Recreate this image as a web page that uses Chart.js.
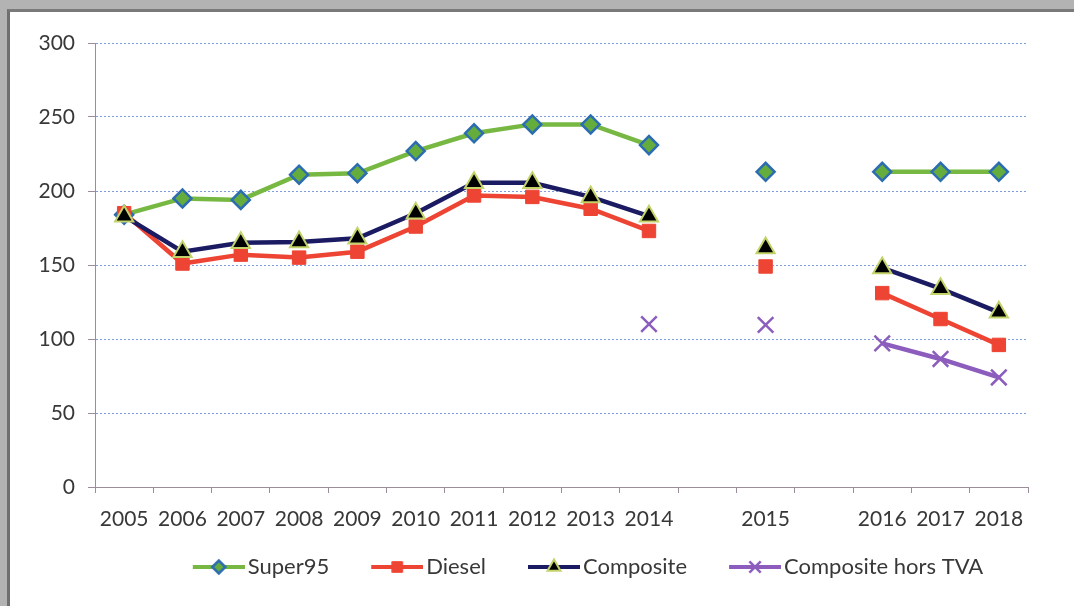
<!DOCTYPE html>
<html>
<head>
<meta charset="utf-8">
<script src="https://cdn.jsdelivr.net/npm/chart.js@4.4.0/dist/chart.umd.min.js"></script>
<style>
  html, body { margin: 0; padding: 0; width: 1074px; height: 606px; overflow: hidden; background: #b3b3b3; }
  #panel { position: absolute; left: 7px; top: 9px; width: 1064px; height: 594px; background: #fff;
           border-left: 3px solid #6f6f6f; border-top: 3px solid #7a7a7a; }
  #c { position: absolute; left: 0; top: 0; }
</style>
</head>
<body>
<div id="panel"><canvas id="c" width="1064" height="594"></canvas></div>
<script>
// categories (blank slots keep the gaps around 2015)
const years = ['2005', '2006', '2007', '2008', '2009', '2010', '2011', '2012', '2013', '2014',
               '', '2015', '', '2016', '2017', '2018'];

const super95 = [184, 195, 194, 211, 212, 227, 239, 245, 245, 231, null, 213, null, 213, 213, 213];
const diesel = [185, 151, 157, 155, 159, 176, 197, 196, 188, 173, null, 149, null, 131, 113.5, 96];
const composite = [183, 159, 165, 165.5, 168, 185, 205.5, 205.5, 196, 183, null, 161.5, null, 148, 134, 118];
const compositeHorsTva = [null, null, null, null, null, null, null, null, null, 110, null, 109.5, null, 97, 86.5, 74];

const yTicks = [0, 50, 100, 150, 200, 250, 300];

const textColor = '#383838';
const axisColor = '#9a8e9a';
const tickFont = { family: 'Lato', size: 21 };
const legendFont = { family: 'Lato', size: 22 };

const datasets = [
  {
    label: 'Super95', data: super95, order: 2,
    borderColor: '#77b843', pointStyle: 'rectRot', pointRadius: 9,
    pointBackgroundColor: '#64ad3d', pointBorderColor: '#2c6db2', pointBorderWidth: 2.5
  },
  {
    label: 'Diesel', data: diesel, order: 1,
    borderColor: '#ee4433', pointStyle: 'rect', pointRadius: 9.5,
    pointBackgroundColor: '#ee4433', pointBorderColor: '#ee4433', pointBorderWidth: 1
  },
  {
    label: 'Composite', data: composite, order: 0,
    borderColor: '#1b1b63', pointStyle: 'triangle', pointRadius: 10.5,
    pointBackgroundColor: '#000000', pointBorderColor: '#c3d36a', pointBorderWidth: 2
  },
  {
    label: 'Composite hors TVA', data: compositeHorsTva, order: 3,
    borderColor: '#8c5dbd', pointStyle: 'crossRot', pointRadius: 11,
    pointBackgroundColor: '#8c5dbd', pointBorderColor: '#8c5dbd', pointBorderWidth: 2.5
  }
];
datasets.forEach(ds => Object.assign(ds, { borderWidth: 4.5, tension: 0, fill: false, spanGaps: false }));

// legend pictures: line + marker on the right 52px, transparent margin on the left
// (the margin gives the spacing between legend items)
const iconMargin = 38;
function legendIcon(ds, r) {
  const cv = document.createElement('canvas');
  cv.width = iconMargin + 52;
  cv.height = 22;
  const ctx = cv.getContext('2d');
  ctx.strokeStyle = ds.borderColor;
  ctx.lineWidth = 4;
  ctx.beginPath();
  ctx.moveTo(iconMargin, 11);
  ctx.lineTo(iconMargin + 52, 11);
  ctx.stroke();
  ctx.fillStyle = ds.pointBackgroundColor;
  ctx.strokeStyle = ds.pointBorderColor;
  ctx.lineWidth = ds.pointBorderWidth;
  Chart.helpers.drawPoint(ctx, { pointStyle: ds.pointStyle, radius: r, borderWidth: ds.pointBorderWidth, rotation: 0 }, iconMargin + 26, 11);
  return cv;
}
const iconSizes = [6.5, 7.5, 7.5, 8];
const icons = datasets.map((ds, i) => legendIcon(ds, iconSizes[i]));

// legend placed by hand: right of the canvas centre, just under the year labels
const placeLegend = {
  id: 'placeLegend',
  afterLayout(chart) {
    const lg = chart.legend;
    const h = lg.bottom - lg.top;
    lg.left += 54;
    lg.right += 54;
    lg.top = 532;
    lg.bottom = 532 + h;
  }
};

new Chart(document.getElementById('c'), {
  type: 'line',
  data: { labels: years, datasets: datasets },
  plugins: [placeLegend],
  options: {
    responsive: false,
    animation: false,
    layout: { padding: { top: 31, right: 46, bottom: 0, left: 0 } },
    plugins: {
      tooltip: { enabled: false },
      legend: {
        position: 'bottom',
        labels: {
          usePointStyle: true,
          pointStyleWidth: 74,
          padding: 12,
          color: textColor,
          font: legendFont,
          generateLabels: chart => chart.data.datasets.map((ds, i) => ({
            text: ds.label, pointStyle: icons[i], datasetIndex: i, hidden: false,
            fontColor: textColor, lineWidth: 0, strokeStyle: 'transparent', fillStyle: 'transparent'
          }))
        }
      }
    },
    scales: {
      x: {
        offset: true,
        grid: { offset: true, drawOnChartArea: false, drawTicks: true, tickLength: 6, tickColor: axisColor },
        border: { color: axisColor, width: 1 },
        ticks: { color: textColor, font: tickFont, padding: 14, autoSkip: false, maxRotation: 0 },
        // legend box is 22 + 12 + 10 = 44 high
        afterFit: s => { s.height = 594 - 475 - 44; }
      },
      y: {
        min: yTicks[0],
        max: yTicks[yTicks.length - 1],
        afterBuildTicks: s => { s.ticks = yTicks.map(v => ({ value: v })); },
        grid: { color: '#7f9ddc', lineWidth: 1, tickColor: axisColor, tickLength: 7, tickBorderDash: [] },
        border: { color: axisColor, width: 1, dash: [2, 2] },
        ticks: { color: textColor, font: tickFont, padding: 13 },
        afterFit: s => { s.width = 85; }
      }
    }
  }
});
</script>
</body>
</html>
